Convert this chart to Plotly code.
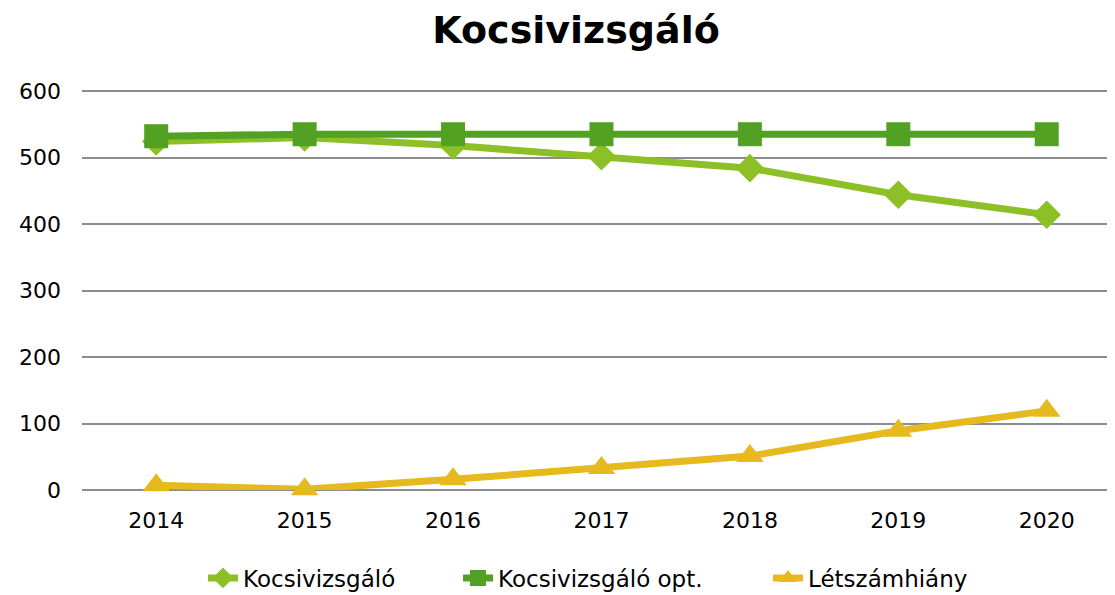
import plotly.graph_objects as go

years = ["2014", "2015", "2016", "2017", "2018", "2019", "2020"]
kocsivizsgalo = [524, 530, 518, 502, 484, 444, 414]
kocsivizsgalo_opt = [532, 535, 535, 535, 535, 535, 535]
letszamhiany = [7, 1, 16, 33, 51, 89, 119]

font_family = "DejaVu Sans"
FS = 22
LFS = 23

fig = go.Figure()
fig.add_trace(go.Scatter(
    x=years, y=kocsivizsgalo, name="Kocsivizsgáló", mode="lines+markers",
    line=dict(color="#8DC026", width=7),
    marker=dict(symbol="diamond", size=22, color="#8DC026"),
    cliponaxis=False, legend="legend",
))
fig.add_trace(go.Scatter(
    x=years, y=kocsivizsgalo_opt, name="Kocsivizsgáló opt.", mode="lines+markers",
    line=dict(color="#52A123", width=7),
    marker=dict(symbol="square", size=24, color="#52A123"),
    cliponaxis=False, legend="legend2",
))
fig.add_trace(go.Scatter(
    x=years, y=letszamhiany, name="Létszámhiány", mode="lines+markers",
    line=dict(color="#E6B91E", width=7),
    marker=dict(symbol="triangle-up", size=24, color="#E6B91E"),
    cliponaxis=False, legend="legend3",
))

L, T, B, W, H = 74, 81, 105, 1107, 587
PW = W - L
PH = H - T - B


def px_x(sx):
    return (sx - 8 - L) / PW


def px_y(sy):
    return (8 + H - B - sy) / PH


leg_common = dict(orientation="h", yanchor="middle", xanchor="left",
                  font=dict(family=font_family, size=LFS, color="black"),
                  bgcolor="rgba(0,0,0,0)")

fig.update_layout(
    width=W, height=H,
    paper_bgcolor="white", plot_bgcolor="white",
    margin=dict(l=L, r=0, t=T, b=B, autoexpand=False),
    title=dict(text="<b>Kocsivizsgáló</b>", x=(576 - 8) / W, xanchor="center",
               y=1 - (30 - 8) / H, yanchor="middle",
               font=dict(family=font_family, size=38, color="black")),
    font=dict(family=font_family, size=FS, color="black"),
    showlegend=True,
    legend=dict(x=px_x(203), y=px_y(578), **leg_common),
    legend2=dict(x=px_x(458), y=px_y(578), **leg_common),
    legend3=dict(x=px_x(768), y=px_y(578), **leg_common),
    xaxis=dict(type="category", range=[-0.5, 6.46], showgrid=False, showline=False,
               ticks="", tickfont=dict(size=FS), ticklabelstandoff=15),
    yaxis=dict(range=[0, 603], tickvals=[0, 100, 200, 300, 400, 500, 600],
               showgrid=True, gridcolor="#8C8C8C", gridwidth=2, zeroline=True,
               zerolinecolor="#8C8C8C", zerolinewidth=2, showline=False, ticks="",
               ticklabelstandoff=20, tickfont=dict(size=FS)),
)

fig.write_html("out.html")
